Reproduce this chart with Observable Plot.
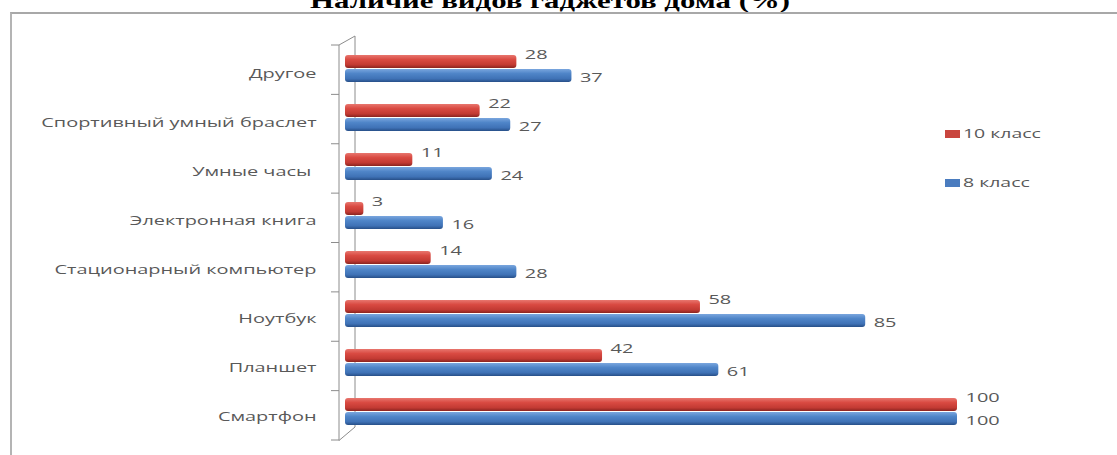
<!DOCTYPE html>
<html>
<head>
<meta charset="utf-8">
<script src="https://cdn.jsdelivr.net/npm/d3@7"></script>
<script src="https://cdn.jsdelivr.net/npm/@observablehq/plot@0.6"></script>
<style>
  body { margin: 0; background: #fff; width: 1117px; height: 455px; overflow: hidden; font-family: "Open Sans", sans-serif; }
  #title { height: 12px; overflow: hidden; position: relative; }
  #title span { position: absolute; left: 550px; top: -10px; font: bold 22px/22px "Liberation Serif", serif; white-space: nowrap; transform: translateX(-50%) scaleX(1.4); color: #000; }
  #chart { position: relative; margin-left: 10px; border-top: 2px solid #a8a8a8; border-left: 2px solid #b4b4b4; height: 441px; }
  .legend-item { position: absolute; display: flex; align-items: center; }
  .legend-item i { display: inline-block; width: 15px; height: 8px; margin-right: 3px; }
  .legend-item span { font-size: 12px; color: #595959; transform: scaleX(1.62); transform-origin: left center; white-space: nowrap; }
</style>
</head>
<body>
<div id="title"><span>Наличие видов гаджетов дома (%)</span></div>
<div id="chart"></div>
<script>
// Gadget categories, top to bottom
const categories = [
  "Другое",
  "Спортивный умный браслет",
  "Умные часы\u00a0",
  "Электронная книга",
  "Стационарный компьютер",
  "Ноутбук",
  "Планшет",
  "Смартфон"
];
// Share of pupils (%) with each gadget at home
const grade10 = [28, 22, 11, 3, 14, 58, 42, 100];
const grade8 = [37, 27, 24, 16, 28, 85, 61, 100];
const seriesNames = ["10 класс", "8 класс"];

const rows10 = categories.map((c, i) => ({category: c, value: grade10[i]}));
const rows8 = categories.map((c, i) => ({category: c, value: grade8[i]}));

const textColor = "#595959";
const wallColor = "#8c8c8c";

// Cylinder-like shading for the bars
const gradients = () => {
  const defs = d3.create("svg:defs");
  const add = (id, stops) => {
    const g = defs.append("linearGradient").attr("id", id)
      .attr("x1", 0).attr("y1", 0).attr("x2", 0).attr("y2", 1);
    stops.forEach(([o, c]) => g.append("stop").attr("offset", o).attr("stop-color", c));
  };
  add("grad10", [[0, "#e8766e"], [0.35, "#d94a42"], [0.75, "#c23a33"], [1, "#8a2420"]]);
  add("grad8", [[0, "#7aa6de"], [0.35, "#4f85c8"], [0.75, "#3f72b6"], [1, "#274f88"]]);
  return defs.node();
};

// Thin 3D wall on the left of the bars, with ticks between categories
const wall = (index, scales, values, dimensions) => {
  const x0 = scales.x(0);
  const top = dimensions.marginTop;
  const bottom = dimensions.height - dimensions.marginBottom;
  const step = (bottom - top) / categories.length;
  const front = x0 - 6, back = x0 + 10;
  const g = d3.create("svg:g").attr("stroke", wallColor).attr("fill", "none").attr("stroke-width", 1);
  g.append("path").attr("d",
    `M${front},${top + 3}L${front},${bottom + 3.5}` +
    `M${back},${top - 6}L${back},${bottom - 10}` +
    `M${front},${top + 3}L${back},${top - 6}` +
    `M${back},${bottom - 10}L${front},${bottom + 3.5}`);
  for (let i = 0; i <= categories.length; ++i) {
    const y = top + i * step + 3;
    g.append("line").attr("x1", front - 8).attr("x2", front).attr("y1", y).attr("y2", y);
  }
  return g.node();
};

const plot = Plot.plot({
  width: 1105,
  height: 441,
  marginLeft: 333,
  marginRight: 160,
  marginTop: 28,
  marginBottom: 18,
  style: {fontFamily: "Open Sans, sans-serif", fontSize: "12px", color: textColor, overflow: "visible"},
  x: {domain: [0, 100], axis: null},
  y: {domain: categories, padding: 0, axis: null},
  marks: [
    gradients,
    wall,
    Plot.axisY({tickSize: 0, tickPadding: 29, dy: 5, label: null, fill: textColor}),
    Plot.barX(rows10, {x: "value", y: "category", fill: "url(#grad10)", insetTop: 11, insetBottom: 25, rx: 3}),
    Plot.barX(rows8, {x: "value", y: "category", fill: "url(#grad8)", insetTop: 25, insetBottom: 11, rx: 3}),
    Plot.text(rows10, {x: "value", y: "category", text: "value", dx: 8, dy: -14, textAnchor: "start", fill: textColor, fontSize: 12}),
    Plot.text(rows8, {x: "value", y: "category", text: "value", dx: 8, dy: 9, textAnchor: "start", fill: textColor, fontSize: 12})
  ]
});

const chart = document.getElementById("chart");
chart.appendChild(plot);

// Wide lettering: stretch every label horizontally
const K = 1.66;
plot.querySelectorAll("text").forEach(t => {
  const w = t.getComputedTextLength();
  if (w > 0) {
    t.setAttribute("textLength", w * K);
    t.setAttribute("lengthAdjust", "spacingAndGlyphs");
  }
});

// Legend
const legendColors = ["#c9453e", "#4a7cbf"];
const legendTops = [111, 160];
seriesNames.forEach((name, i) => {
  const item = document.createElement("div");
  item.className = "legend-item";
  item.style.left = "933px";
  item.style.top = legendTops[i] + "px";
  item.innerHTML = `<i style="background:${legendColors[i]}"></i><span>${name}</span>`;
  chart.appendChild(item);
});
</script>
</body>
</html>
